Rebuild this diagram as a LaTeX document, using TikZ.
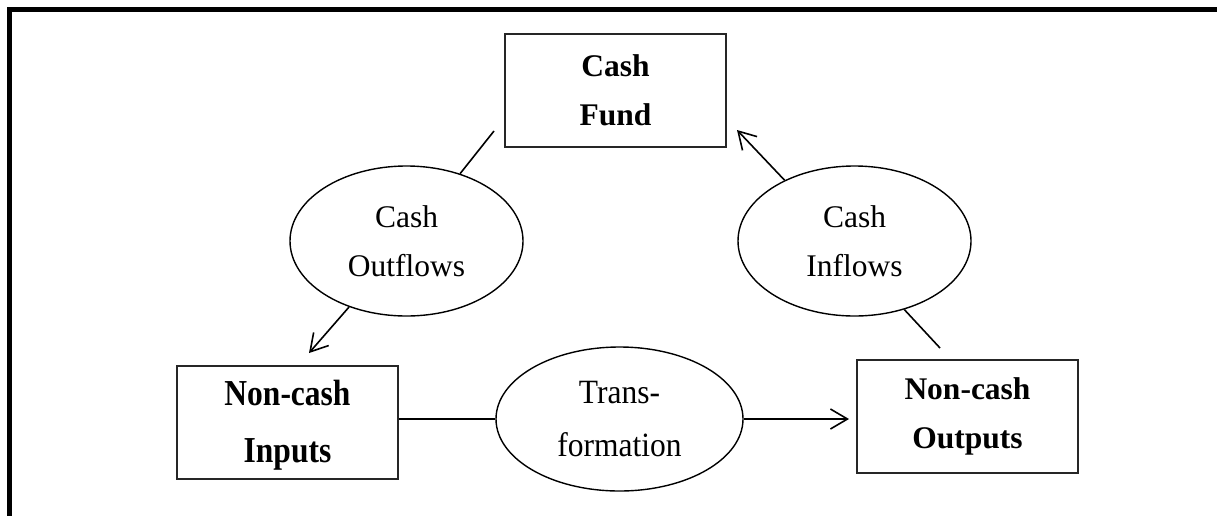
\documentclass[tikz,border=0pt]{standalone}
\usepackage{fontspec}
\setmainfont{Liberation Serif}
\usetikzlibrary{arrows.meta,shapes.geometric}
% two centred lines, stretched upright by the given factor
\newcommand{\tallpair}[3]{\scalebox{1}[#1]{\begin{tabular}{@{}c@{}}#2\\#3\end{tabular}}}
\begin{document}
\begin{tikzpicture}[x=1pt,y=-1pt,
  txt/.style={font=\fontsize{31.5}{49}\selectfont, align=center, inner sep=0pt},
  stockbox/.style={txt, draw=black!85, line width=2pt, minimum width=221pt,
    minimum height=113pt, font=\fontsize{31.5}{49}\selectfont\bfseries},
  flowellipse/.style={txt, ellipse, draw, line width=1.4pt},
  boldlabel/.style={label={[txt, font=\fontsize{31.5}{49}\selectfont\bfseries]center:#1}},
  plainlabel/.style={label={[txt]center:#1}},
  link/.style={line width=1.6pt},
  flowarrow/.style={link, -{Straight Barb[length=17pt,width=20pt,line width=1.6pt]}}]

  \useasboundingbox (0,0) rectangle (1217,515);

  % outer frame, running past the lower and right edges
  \begin{scope}
    \clip (0,0) rectangle (1217,515);
    \draw[line width=5.5pt] (9.5,9.5) rectangle (1219.5,560);
  \end{scope}

  % stocks
  \node[stockbox] (fund)    at (615.5,90.5)  {Cash\\Fund};
  \node[stockbox, boldlabel={\tallpair{1.16}{Non-cash}{Inputs}}] (inputs) at (287.5,422.5) {};
  \node[stockbox] (outputs) at (967.5,416.5) {Non-cash\\Outputs};

  % flows
  \node[flowellipse, minimum width=233pt, minimum height=150pt] (outflows) at (406.5,241) {Cash\\Outflows};
  \node[flowellipse, minimum width=233pt, minimum height=150pt] (inflows)  at (854.5,241) {Cash\\Inflows};
  \node[flowellipse, minimum width=247pt, minimum height=144pt,
        plainlabel={\tallpair{1.08}{Trans-}{formation}}] (transf) at (619.5,419) {};

  % free ends of the connectors
  \coordinate (fundout) at (494,131);
  \coordinate (intip)   at (309,353);
  \coordinate (fundtip) at (737,130);
  \coordinate (outstub) at (940,348);

  \draw[link] (fundout) -- (outflows);
  \draw[flowarrow] (outflows) -- (intip);
  \draw[link] (transf.west) -- (transf.west -| inputs.east);
  \draw[flowarrow, shorten >=7pt] (transf.east) -- (transf.east -| outputs.west);
  \draw[link] (outstub) -- (inflows.-54);
  \draw[flowarrow] (inflows.139) -- (fundtip);
\end{tikzpicture}
\end{document}
